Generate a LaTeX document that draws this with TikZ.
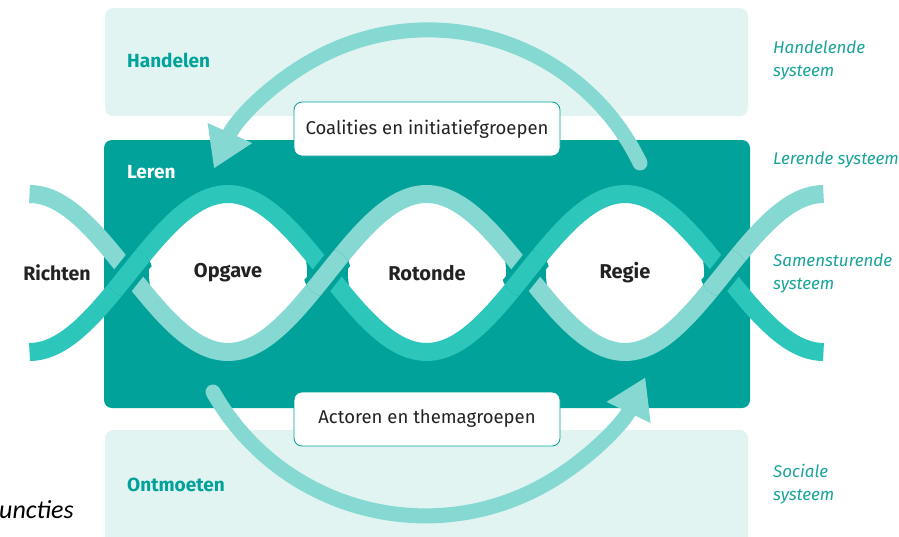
\documentclass[tikz,border=0pt]{standalone}
\usepackage{fontspec}
\setmainfont{Fira Sans}
\newfontfamily\notefont{Carlito}
\usetikzlibrary{arrows.meta}

\definecolor{darkteal}{HTML}{00A29A}
\definecolor{paleteal}{HTML}{E1F4F2}
\definecolor{brightstrand}{HTML}{2CC6BA}
\definecolor{softstrand}{HTML}{86D9D2}
\definecolor{labelteal}{HTML}{1AA39A}
\definecolor{inktext}{HTML}{222222}

\tikzset{
	band/.style={fill=paleteal, rounded corners=8pt},
	core/.style={fill=darkteal, rounded corners=8pt},
	lens/.style={circle, fill=white, minimum size=158pt, inner sep=0pt, text=inktext, font=\bfseries\fontsize{20}{22}\selectfont},
	labelbox/.style={draw=darkteal, line width=0.8pt, fill=white, rounded corners=8pt, minimum width=266pt, minimum height=54pt, text=inktext, font=\fontsize{18.5}{20}\selectfont},
	layername/.style={anchor=west, inner sep=0pt, font=\bfseries\fontsize{19}{22}\selectfont},
	sysname/.style={anchor=west, inner sep=0pt, align=left, text=labelteal, font=\itshape\fontsize{17}{23}\selectfont},
	flowarrow/.style={softstrand, line width=15pt, line cap=round, -{Triangle[length=39pt, width=46pt]}},
	strand/.style={line width=18pt},
	gap/.style={darkteal, line width=27pt}
}

\begin{document}
\begin{tikzpicture}[x=1pt, y=-1pt]
	\useasboundingbox (0,0) rectangle (899,536);

	% layers
	\fill[band] (105,8) rectangle (748,116);
	\fill[core] (104,140) rectangle (750,408);
	\fill[band] (105,430) rectangle (748,560);

	\node[layername, text=darkteal] (handelen) at (127,60) {Handelen};
	\node[layername, text=white] (leren) at (127,172) {Leren};
	\node[layername, text=darkteal] (ontmoeten) at (127,485) {Ontmoeten};

	% eyes
	\node[lens] (opgave) at (228,273) {Opgave};
	\node[lens] (rotonde) at (427,273) {Rotonde};
	\node[lens] (regie) at (625,273) {Regie};
	\node[text=inktext, font=\bfseries\fontsize{19.5}{22}\selectfont] (richten) at (57,273) {Richten};

	% the two strands
	\draw[strand, softstrand] plot[domain=29.5:823.5, samples=160] (\x, {273-79*cos((\x-29.5)/198.5*180)});
	\draw[strand, brightstrand] plot[domain=29.5:823.5, samples=160] (\x, {273+79*cos((\x-29.5)/198.5*180)});

	% strand going up lies on top
	\foreach \xc/\sg/\col in {128.75/1/brightstrand, 327.25/-1/softstrand, 525.75/1/brightstrand, 724.25/-1/softstrand}{
		\begin{scope}
			\clip (\xc,273) circle[radius=24];
			\draw[gap] plot[domain=29.5:823.5, samples=160] (\x, {273+\sg*79*cos((\x-29.5)/198.5*180)});
			\draw[strand, \col] plot[domain=29.5:823.5, samples=160] (\x, {273+\sg*79*cos((\x-29.5)/198.5*180)});
		\end{scope}
	}

	% loops
	\coordinate (topstart) at (640,163);
	\coordinate (botstart) at (213,392);
	\draw[flowarrow] (topstart) arc[start angle=-25.7, end angle=-155.8, radius=235];
	\draw[flowarrow] (botstart) arc[start angle=150.5, end angle=25.6, radius=244];

	\node[labelbox] (coalities) at (427,129) {Coalities en initiatiefgroepen};
	\node[labelbox] (actoren) at (427,419) {Actoren en themagroepen};

	% systems
	\node[sysname] (handelend) at (773,60.5) {Handelende\\systeem};
	\node[sysname] (lerend) at (773,160) {Lerende systeem};
	\node[sysname] (samen) at (773,273.5) {Samensturende\\systeem};
	\node[sysname] (sociaal) at (773,484.5) {Sociale\\systeem};

	\node[anchor=west, inner sep=0pt, text=black, font=\notefont\itshape\fontsize{26}{26}\selectfont] (functies) at (-1,510) {uncties};
\end{tikzpicture}
\end{document}
